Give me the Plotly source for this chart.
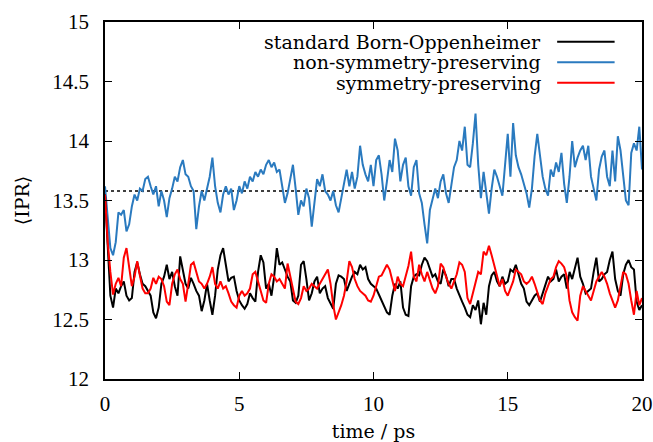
import numpy as np
import plotly.graph_objects as go

time_ps = np.round(np.linspace(0.0, 20.0, 201), 2)

standard_bo = [
    13.55, 13.10, 12.70, 12.60, 12.76, 12.72, 12.78, 12.82, 12.70, 12.66,
    12.68, 12.90, 12.98, 12.88, 12.80, 12.78, 12.74, 12.70, 12.56, 12.51,
    12.60, 12.80, 12.86, 12.96, 12.84, 12.90, 12.78, 12.70, 13.03, 12.90,
    12.80, 12.76, 12.85, 12.80, 12.74, 12.70, 12.57, 12.66, 12.80, 12.66,
    12.54, 12.70, 12.92, 13.04, 13.10, 12.96, 12.82, 12.85, 12.86, 12.74,
    12.66, 12.62, 12.59, 12.63, 12.72, 12.68, 12.65, 12.90, 13.04, 12.98,
    12.76, 12.80, 12.70, 12.86, 13.10, 12.96, 12.98, 12.92, 12.86, 12.82,
    12.66, 12.64, 12.70, 12.96, 12.99, 12.84, 12.66, 12.72, 12.82, 12.86,
    12.72, 12.76, 12.78, 12.68, 12.64, 12.59, 12.80, 12.87, 12.86, 12.84,
    12.74, 12.80, 12.86, 12.90, 12.88, 12.96, 12.92, 12.94, 12.84, 12.80,
    12.78, 12.76, 12.71, 12.66, 12.60, 12.56, 12.54, 12.70, 12.80, 12.76,
    12.82, 12.60, 12.54, 12.53, 12.78, 12.86, 12.88, 12.87, 12.96, 13.02,
    12.99, 12.92, 12.86, 12.88, 12.82, 12.80, 12.92, 12.87, 12.78, 12.84,
    12.84, 12.76, 12.70, 12.65, 12.60, 12.54, 12.52, 12.62, 12.58, 12.66,
    12.46, 12.64, 12.54, 12.78, 12.87, 12.90, 12.82, 12.78, 12.86, 12.80,
    12.82, 12.92, 12.90, 12.96, 12.88, 12.80, 12.76, 12.65, 12.62, 12.66,
    12.70, 12.72, 12.65, 12.72, 12.80, 12.86, 12.82, 12.84, 12.92, 12.82,
    12.86, 12.88, 12.76, 12.90, 12.84, 12.94, 13.02, 12.86, 12.80, 12.72,
    12.74, 12.76, 12.90, 13.02, 12.82, 12.84, 12.88, 12.90, 13.00, 13.07,
    12.84, 12.74, 12.70, 12.88, 12.96, 13.00, 12.94, 12.92, 12.65, 12.58,
    12.62,
]

non_symmetry = [
    13.62, 13.35, 13.10, 13.04, 13.15, 13.40, 13.38, 13.42, 13.24, 13.30,
    13.45, 13.55, 13.50, 13.60, 13.58, 13.68, 13.70, 13.62, 13.55, 13.62,
    13.45, 13.58, 13.50, 13.36, 13.52, 13.60, 13.70, 13.66, 13.78, 13.84,
    13.72, 13.70, 13.62, 13.58, 13.26, 13.45, 13.58, 13.50, 13.60, 13.70,
    13.86, 13.62, 13.48, 13.40, 13.55, 13.62, 13.55, 13.60, 13.42, 13.50,
    13.62, 13.56, 13.66, 13.60, 13.70, 13.66, 13.74, 13.70, 13.76, 13.72,
    13.80, 13.84, 13.78, 13.82, 13.74, 13.76, 13.62, 13.48, 13.56, 13.70,
    13.80, 13.60, 13.38, 13.50, 13.45, 13.60, 13.52, 13.28, 13.48, 13.68,
    13.62, 13.72, 13.58, 13.55, 13.50, 13.58, 13.46, 13.40, 13.52, 13.66,
    13.76, 13.62, 13.74, 13.60, 13.70, 13.96, 13.80, 13.72, 13.66, 13.80,
    13.62, 13.84, 13.88, 13.72, 13.50, 13.66, 13.84, 13.74, 14.02, 13.92,
    13.66, 13.80, 13.86, 13.62, 13.54, 13.78, 13.84, 13.56, 13.48, 13.30,
    13.14, 13.42, 13.50, 13.60, 13.52, 13.66, 13.72, 13.56, 13.48, 13.62,
    13.78, 13.84, 14.00, 13.92, 14.12, 13.80, 13.78, 13.98, 14.23, 13.80,
    13.52, 13.74, 13.56, 13.39, 13.60, 13.76, 13.70, 13.62, 13.54, 13.80,
    14.06, 13.70, 14.15, 13.88, 13.78, 13.72, 13.64, 13.56, 13.44, 13.60,
    13.87, 14.06, 13.88, 13.70, 13.60, 13.54, 13.76, 13.70, 13.82, 13.74,
    13.90, 13.64, 13.48, 13.70, 14.00, 13.78, 13.86, 13.92, 13.96, 13.84,
    13.96, 13.70, 13.60, 13.50, 13.76, 13.87, 13.92, 13.70, 13.62, 13.92,
    13.66, 14.04, 13.92, 13.70, 13.50, 13.46, 13.90, 13.98, 13.92, 14.12,
    13.76,
]

symmetry = [
    13.55, 13.15, 12.90, 12.71, 12.80, 12.85, 12.78, 13.02, 13.10, 12.92,
    12.78, 12.86, 12.99, 12.87, 12.76, 12.72, 12.72, 12.76, 12.85, 12.80,
    12.86, 12.84, 12.78, 12.65, 12.62, 12.80, 12.88, 12.92, 12.84, 12.80,
    12.65, 12.80, 12.96, 12.98, 12.90, 12.82, 12.80, 12.76, 12.80, 12.86,
    12.94, 12.80, 12.76, 12.82, 12.76, 12.78, 12.72, 12.65, 12.62, 12.60,
    12.70, 12.74, 12.70, 12.72, 12.76, 12.88, 12.90, 12.82, 12.72, 12.66,
    12.64, 12.80, 12.88, 12.86, 12.82, 12.84, 12.80, 12.76, 12.97, 12.86,
    12.74, 12.65, 12.63, 12.68, 12.78, 12.74, 12.76, 12.80, 12.78, 12.76,
    12.80, 12.84, 12.89, 12.92, 12.80, 12.62, 12.50, 12.56, 12.62, 12.70,
    12.82, 12.99, 12.94, 12.84, 12.78, 12.74, 12.72, 12.70, 12.66, 12.65,
    12.70, 12.78, 12.86, 12.87, 12.92, 12.96, 12.92, 12.82, 12.74, 12.86,
    12.80, 12.78, 12.87, 12.95, 13.07, 12.86, 12.82, 12.96, 12.88, 12.82,
    12.90, 12.82, 12.76, 12.72, 12.78, 12.97, 12.94, 12.86, 12.80, 12.76,
    12.82, 12.88, 12.98, 12.96, 12.90, 12.68, 12.63, 12.72, 12.80, 12.90,
    12.88, 13.07, 13.04, 13.12, 13.04, 12.96, 12.86, 12.78, 12.84, 12.74,
    12.70, 12.76, 12.82, 12.92, 12.90, 12.88, 12.82, 12.80, 12.82, 12.86,
    12.80, 12.72, 12.66, 12.63, 12.72, 12.78, 12.84, 12.86, 12.94, 12.99,
    12.97, 12.94, 12.86, 12.66, 12.56, 12.52, 12.49, 12.70, 12.78, 12.74,
    12.70, 12.66, 12.74, 12.82, 12.86, 12.90, 12.86, 12.80, 12.72, 12.65,
    12.60, 12.66, 12.78, 12.90, 12.88, 12.80, 12.66, 12.54, 12.74, 12.62,
    12.68,
]

reference_level = 13.58

series_names = ["standard Born-Oppenheimer", "non-symmetry-preserving", "symmetry-preserving"]
series_values = [standard_bo, non_symmetry, symmetry]
series_colors = ["#000000", "#2a7abf", "#ff0000"]

x_ticks = [0, 5, 10, 15, 20]
y_ticks = [12, 12.5, 13, 13.5, 14, 14.5, 15]
y_ticktext = ["12", "12.5", "13", "13.5", "14", "14.5", "15"]

FONT = "DejaVu Serif"
TICK_FONT = "Liberation Serif"
TEXT_SIZE = 19
TICK_SIZE = 21

fig = go.Figure()

# dotted reference line
fig.add_trace(go.Scatter(
    x=[time_ps[0], time_ps[-1]], y=[reference_level, reference_level],
    mode="lines", line=dict(color="black", width=1.6, dash="3px,3px"),
    showlegend=False, hoverinfo="skip"))

# data series
order = [1, 0, 2]
for i in order:
    fig.add_trace(go.Scatter(
        x=time_ps, y=series_values[i], mode="lines", name=series_names[i],
        line=dict(color=series_colors[i], width=2), showlegend=False))

# legend drawn like gnuplot: text right-aligned, sample line on the right
legend_y = [0.945, 0.887, 0.830]
for name, color, ly in zip(series_names, series_colors, legend_y):
    fig.add_annotation(x=0.816, y=ly, xref="paper", yref="paper", text=name,
                       showarrow=False, xanchor="right", yanchor="middle",
                       font=dict(family=FONT, size=TEXT_SIZE, color="black"))
    fig.add_shape(type="line", xref="paper", yref="paper",
                  x0=0.842, x1=0.949, y0=ly, y1=ly,
                  line=dict(color=color, width=2))

axis_common = dict(
    showline=True, linecolor="black", linewidth=1.6, mirror="ticks",
    ticks="inside", ticklen=7, tickwidth=1.4, tickcolor="black",
    showgrid=False, zeroline=False, automargin=False,
    tickfont=dict(family=TICK_FONT, size=TICK_SIZE, color="black"),
)

fig.update_xaxes(range=[0, 20], tickvals=x_ticks, ticklabelstandoff=5,
                 title=dict(text="time / ps", font=dict(family=FONT, size=TEXT_SIZE, color="black"), standoff=12),
                 **axis_common)
fig.update_yaxes(range=[12, 15], tickvals=y_ticks, ticktext=y_ticktext, ticklabelstandoff=10,
                 title=dict(text="⟨IPR⟩", font=dict(family=FONT, size=TEXT_SIZE, color="black"), standoff=18),
                 **axis_common)

fig.update_layout(
    width=653, height=442,
    margin=dict(l=105, r=11, t=22, b=63),
    plot_bgcolor="white", paper_bgcolor="white",
    showlegend=False,
)

# remove the browser's default page margin so the figure fills the window exactly
fig.write_html(
    "out.html",
    config={"displayModeBar": False},
    post_script="document.body.style.margin='0';document.body.style.overflow='hidden';",
)
